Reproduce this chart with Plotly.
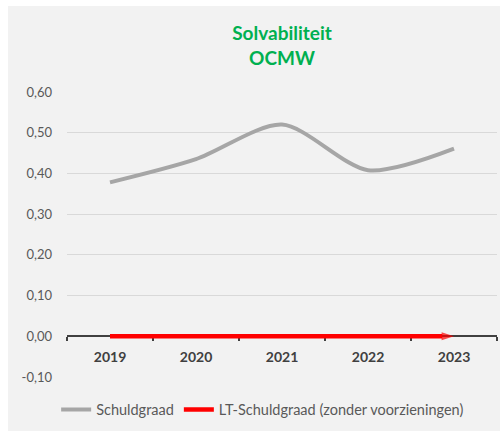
import plotly.graph_objects as go

years = ["2019", "2020", "2021", "2022", "2023"]
schuldgraad = [0.378, 0.435, 0.52, 0.408, 0.461]
lt_schuldgraad = [0.0, 0.0, 0.0, 0.0, 0.0]
y_ticks = [-0.1, 0.0, 0.1, 0.2, 0.3, 0.4, 0.5, 0.6]
y_tick_labels = ["-0,10", "0,00", "0,10", "0,20", "0,30", "0,40", "0,50", "0,60"]

FONT = "Lato"
y_min, y_max = -0.1, 0.6

W, H = 502, 433
ML, MR, MT, MB = 67, 5, 92, 56
PW, PH = W - ML - MR, H - MT - MB

fig = go.Figure()
fig.add_trace(go.Scatter(
    x=years, y=schuldgraad, name="Schuldgraad", mode="lines",
    line=dict(color="#a6a6a6", width=4, shape="spline", smoothing=0.8),
))
n = len(years)
fig.add_trace(go.Scatter(
    x=years, y=lt_schuldgraad, name="LT-Schuldgraad (zonder voorzieningen)",
    mode="lines+markers",
    line=dict(color="#ff0000", width=4.5),
    marker=dict(symbol=["circle"] * (n - 1) + ["arrow"],
                size=[0] * (n - 1) + [13],
                angleref="previous", color="#ff0000",
                line=dict(width=0)),
))

# grey chart-area background (with thin white border like the reference)
fig.add_shape(type="rect", xref="paper", yref="paper", layer="below",
              x0=(8 - ML) / PW, x1=(500 - ML) / PW,
              y0=-(431 - (H - MB)) / PH, y1=((H - MB) - 6) / PH,
              line=dict(width=0), fillcolor="#f2f2f2")

fig.update_layout(
    width=W, height=H,
    paper_bgcolor="white", plot_bgcolor="rgba(0,0,0,0)",
    margin=dict(l=ML, r=MR, t=MT, b=MB),
    font=dict(family=FONT, color="#595959", size=13),
    title=dict(text="<b>Solvabiliteit<br>OCMW</b>", x=0.5, xref="paper",
               xanchor="center", y=1 - 40 / H, yanchor="top",
               font=dict(family=FONT, size=19, color="#00b050")),
    showlegend=True,
    legend=dict(orientation="h", x=0.455, xanchor="center", xref="paper",
                y=-0.114, yanchor="middle", font=dict(size=14.5, color="#595959"),
                bgcolor="rgba(0,0,0,0)", itemwidth=30),
    xaxis=dict(
        type="category", anchor="free", range=[-0.5, n - 0.5],
        position=(0 - y_min) / (y_max - y_min),
        showline=True, linecolor="#404040", linewidth=2,
        ticks="outside", tickson="boundaries", ticklen=4, tickwidth=2,
        tickcolor="#404040", ticklabelstandoff=8, layer="below traces",
        tickfont=dict(family=FONT, size=14, color="#404040", weight="bold"),
        showgrid=False, zeroline=False,
    ),
    yaxis=dict(
        range=[y_min, y_max], tickvals=y_ticks, ticktext=y_tick_labels,
        showgrid=True, gridcolor="#d9d9d9", gridwidth=1,
        zeroline=False, showline=False, ticks="", ticklabelstandoff=14,
        tickfont=dict(family=FONT, size=13, color="#595959"),
    ),
)

fig.write_html("out.html", config={"displayModeBar": False},
               post_script="document.body.style.margin='0';document.body.style.overflow='hidden';")
